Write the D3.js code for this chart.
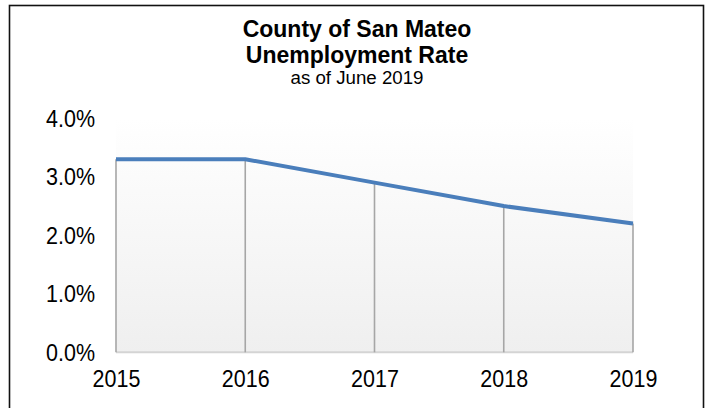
<!DOCTYPE html>
<html>
<head>
<meta charset="utf-8">
<script src="https://cdn.jsdelivr.net/npm/d3@7"></script>
<style>
  body { margin: 0; background: #fff; }
  text { font-family: Arial, "Liberation Sans", sans-serif; fill: #000; }
</style>
</head>
<body>
<svg id="chart"></svg>
<script>
// The data
var years = [2015, 2016, 2017, 2018, 2019];
var rates = [3.3, 3.3, 2.9, 2.5, 2.2];
var yTicks = [0, 1, 2, 3, 4];
var titleLines = ['County of San Mateo', 'Unemployment Rate'];
var subtitle = 'as of June 2019';

var width = 710,
    height = 408,
    plot = {left: 116, right: 633, top: 118.3, bottom: 352.3};

var svg = d3.select('svg#chart')
  .attr('width', width)
  .attr('height', height);

// Gradient for the plot area
var defs = svg.append('defs');
var grad = defs.append('linearGradient')
  .attr('id', 'plotGrad')
  .attr('x1', 0).attr('y1', 0).attr('x2', 0).attr('y2', 1);
grad.append('stop').attr('offset', '0%').attr('stop-color', '#ffffff');
grad.append('stop').attr('offset', '100%').attr('stop-color', '#efefef');

// Outer frame
svg.append('rect')
  .attr('x', 9.5).attr('y', 5.5)
  .attr('width', 694).attr('height', 410)
  .attr('fill', '#fff')
  .attr('stroke', '#111')
  .attr('stroke-width', 1.6);

// Scales
var x = d3.scalePoint()
  .domain(years)
  .range([plot.left, plot.right]);

var y = d3.scaleLinear()
  .domain([0, 4])
  .range([plot.bottom, plot.top]);

// Plot background
svg.append('rect')
  .attr('x', plot.left).attr('y', plot.top)
  .attr('width', plot.right - plot.left)
  .attr('height', plot.bottom - plot.top)
  .attr('fill', 'url(#plotGrad)');

// Baseline
svg.append('line')
  .attr('x1', plot.left).attr('x2', plot.right)
  .attr('y1', y(0)).attr('y2', y(0))
  .attr('stroke', '#d4d4d4')
  .attr('stroke-width', 2);

// Drop lines
svg.selectAll('line.drop')
  .data(rates)
  .enter().append('line')
    .attr('class', 'drop')
    .attr('x1', function(d, i){ return x(years[i]); })
    .attr('x2', function(d, i){ return x(years[i]); })
    .attr('y1', function(d){ return y(d); })
    .attr('y2', y(0))
    .attr('stroke', '#a6a6a6')
    .attr('stroke-width', 1.6);

// The rate line
var line = d3.line()
  .x(function(d, i){ return x(years[i]); })
  .y(function(d){ return y(d); });

svg.append('path')
  .datum(rates)
  .attr('d', line)
  .attr('fill', 'none')
  .attr('stroke', '#4a7ebb')
  .attr('stroke-width', 4)
  .attr('stroke-linejoin', 'round');

// Helper: place a text at (tx, ty) baseline, optionally stretched upwards
function place(sel, tx, ty, stretch) {
  sel.attr('x', null).attr('y', null).attr('dy', null)
    .attr('transform', function(d, i){
      var px = typeof tx === 'function' ? tx(d, i) : tx,
          py = typeof ty === 'function' ? ty(d, i) : ty;
      return 'translate(' + px + ',' + py + ') scale(1,' + (stretch || 1) + ')';
    });
}

// Y axis labels
var yAxis = d3.axisLeft(y)
  .tickValues(yTicks)
  .tickFormat(function(d){ return d3.format('.1f')(d) + '%'; })
  .tickSize(0);

var gy = svg.append('g')
  .attr('transform', 'translate(' + plot.left + ',0)')
  .call(yAxis);
gy.select('.domain').remove();
gy.selectAll('text')
  .attr('font-family', 'Arial, "Liberation Sans", sans-serif')
  .attr('font-size', '21.5px')
  .call(place, -21, 8, 1.12);

// X axis labels
var xAxis = d3.axisBottom(x)
  .tickSize(0);

var gx = svg.append('g')
  .attr('transform', 'translate(0,' + y(0) + ')')
  .call(xAxis);
gx.select('.domain').remove();
gx.selectAll('text')
  .attr('font-family', 'Arial, "Liberation Sans", sans-serif')
  .attr('font-size', '21.5px')
  .call(place, 0, 34.5, 1.12);

// Titles
var cx = 357;
svg.selectAll('text.title')
  .data(titleLines)
  .enter().append('text')
    .attr('class', 'title')
    .attr('text-anchor', 'middle')
    .style('font-size', '23px')
    .style('font-weight', 'bold')
    .text(function(d){ return d; })
    .call(place, cx, function(d, i){ return 36.5 + i * 26; });

svg.append('text')
  .attr('text-anchor', 'middle')
  .style('font-size', '18.7px')
  .text(subtitle)
  .call(place, cx, 83.5);
</script>
</body>
</html>
